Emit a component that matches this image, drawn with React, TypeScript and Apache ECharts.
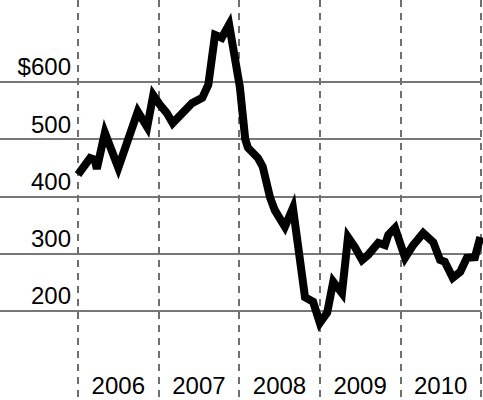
import React, { useEffect, useRef } from "react";
import * as echarts from "echarts";

// Months since Jan 2006 (fractional) and the price at each turning point
const monthIndex = [
  0, 1.8, 2.5, 2.8, 4.0, 6.0, 8.9, 10.3, 11.2, 12.2, 13.2, 14.1, 17.0, 18.5,
  19.4, 20.4, 21.4, 22.5, 24.1, 24.9, 25.3, 26.8, 27.5, 28.6, 29.3, 30.8, 32.0,
  33.8, 35.0, 36.0, 37.1, 38.0, 39.3, 40.2, 41.2, 42.3, 43.2, 44.7, 45.7, 46.2,
  47.2, 48.7, 49.9, 51.4, 52.9, 53.9, 54.6, 55.8, 56.9, 57.9, 59.1, 59.9,
];
const price = [
  438, 467, 464, 448, 511, 450, 548, 521, 577, 560, 546, 528, 563, 572, 595,
  682, 677, 700, 591, 500, 485, 467, 452, 398, 376, 347, 380, 224, 216, 179,
  197, 251, 231, 329, 312, 289, 298, 319, 315, 333, 345, 293, 315, 336, 320,
  289, 286, 258, 268, 293, 294, 329,
];
const yearLabels = ["2006", "2007", "2008", "2009", "2010"];
const priceTicks = [200, 300, 400, 500, 600];

const FONT = "'Liberation Sans', Arial, sans-serif";

export default function App() {
  const ref = useRef<HTMLDivElement>(null);
  useEffect(() => {
    if (!ref.current) return;
    const chart = echarts.init(ref.current, null, { renderer: "svg" });
    const xMin = -12;
    const xMax = 60;
    const xColors: string[] = [];
    for (let v = xMin; v <= xMax; v += 6) {
      xColors.push(v >= 0 && v % 12 === 0 ? "#6f6f6f" : "rgba(0,0,0,0)");
    }
    const yColors: string[] = [];
    for (let v = 0; v <= 800; v += 100) {
      yColors.push(priceTicks.includes(v) ? "#777777" : "rgba(0,0,0,0)");
    }
    chart.setOption({
      animation: false,
      backgroundColor: "#ffffff",
      grid: {
        left: -2.6,
        top: 0,
        width: 483.6,
        height: 425.5,
        containLabel: false,
        outerBoundsMode: "none",
      },
      xAxis: {
        type: "value",
        min: xMin,
        max: xMax,
        interval: 6,
        axisLine: { show: false },
        axisTick: { show: false },
        splitLine: {
          show: true,
          lineStyle: { color: xColors, width: 2, type: [7, 6] },
        },
        axisLabel: {
          inside: true,
          margin: 40,
          verticalAlign: "middle",
          color: "#000",
          fontSize: 24,
          fontFamily: FONT,
          formatter: (v: number) =>
            v > 0 && v % 12 === 6 ? yearLabels[(v - 6) / 12] ?? "" : "",
        },
      },
      yAxis: {
        type: "value",
        min: 0,
        max: 743,
        interval: 100,
        axisLine: { show: false },
        axisTick: { show: false },
        splitLine: {
          show: true,
          lineStyle: { color: yColors, width: 2 },
        },
        axisLabel: {
          inside: true,
          margin: 73.6,
          align: "right",
          verticalAlign: "bottom",
          lineHeight: 24,
          padding: [0, 0, 3, 0],
          color: "#000",
          fontSize: 24,
          fontFamily: FONT,
          formatter: (v: number) =>
            priceTicks.includes(v) ? (v === 600 ? "$600" : String(v)) : "",
        },
      },
      series: [
        {
          type: "line",
          data: monthIndex.map((m, i) => [m, price[i]]),
          showSymbol: false,
          symbol: "none",
          lineStyle: { color: "#000", width: 8, join: "miter", miterLimit: 4 },
          clip: false,
        },
      ],
    });
    return () => chart.dispose();
  }, []);
  return (
    <div
      ref={ref}
      style={{ position: "fixed", left: 0, top: 0, width: 483, height: 400 }}
    />
  );
}
